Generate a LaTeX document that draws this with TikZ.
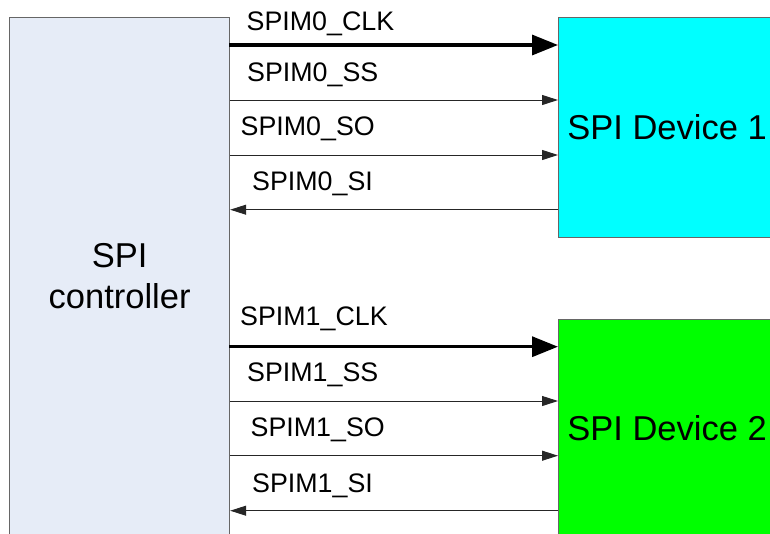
\documentclass[tikz,border=0pt]{standalone}
\usepackage{fontspec}
\setmainfont{Liberation Sans}
\usetikzlibrary{arrows.meta}
\definecolor{ctrlfill}{RGB}{230,236,247}
\definecolor{devcyan}{RGB}{0,255,255}
\definecolor{devgreen}{RGB}{0,255,0}
\begin{document}
\begin{tikzpicture}[x=1pt,y=-1pt,
  block/.style={draw=black!60, line width=1.2pt, inner sep=0pt, anchor=north west},
  sig/.style={draw=black!85, line width=1pt, -{Triangle[length=16pt,width=10pt]}},
  clk/.style={draw=black, line width=3.3pt, -{Triangle[length=26pt,width=20pt]}},
  lbl/.style={anchor=base west, inner sep=0pt, font=\fontsize{26.8}{30}\selectfont},
  big/.style={font=\fontsize{34.5}{41}\selectfont, align=center}]
\useasboundingbox (0,0) rectangle (770,533);
\clip (0,0) rectangle (770,533);

% blocks
\node[block, big, fill=ctrlfill, minimum width=220pt, minimum height=518pt] (ctrl) at (9,17) {SPI\\controller};
\node[block, big, fill=devcyan, minimum width=217pt, minimum height=220pt] (dev1) at (558,17) {SPI Device 1};
\node[block, big, fill=devgreen, minimum width=217pt, minimum height=217pt] (dev2) at (558,319) {SPI Device 2};

% bus 0
\draw[clk] ([xshift=-1pt]ctrl.east |- 0,45) -- (dev1.west |- 0,45);
\draw[sig] (ctrl.east |- 0,100) -- (dev1.west |- 0,100);
\draw[sig] (ctrl.east |- 0,155) -- (dev1.west |- 0,155);
\draw[sig] (dev1.west |- 0,209.7) -- (ctrl.east |- 0,209.7);
\node[lbl] (l0clk) at (246.5,30) {SPIM0\_CLK};
\node[lbl] (l0ss) at (247,81) {SPIM0\_SS};
\node[lbl] (l0so) at (240.5,135) {SPIM0\_SO};
\node[lbl] (l0si) at (252,190) {SPIM0\_SI};

% bus 1
\draw[clk] ([xshift=-1pt]ctrl.east |- 0,346.7) -- (dev2.west |- 0,346.7);
\draw[sig] (ctrl.east |- 0,401) -- (dev2.west |- 0,401);
\draw[sig] (ctrl.east |- 0,455.7) -- (dev2.west |- 0,455.7);
\draw[sig] (dev2.west |- 0,510.7) -- (ctrl.east |- 0,510.7);
\node[lbl] (l1clk) at (240,325) {SPIM1\_CLK};
\node[lbl] (l1ss) at (247,381.7) {SPIM1\_SS};
\node[lbl] (l1so) at (250.5,436.7) {SPIM1\_SO};
\node[lbl] (l1si) at (252,492.7) {SPIM1\_SI};
\end{tikzpicture}
\end{document}
